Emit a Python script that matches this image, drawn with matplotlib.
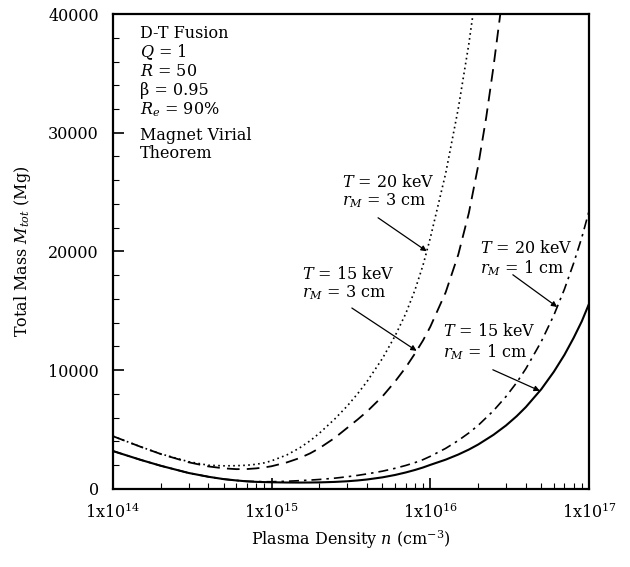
import numpy as np
import matplotlib
matplotlib.use("Agg")
import matplotlib.pyplot as plt
from matplotlib.ticker import FixedLocator, FuncFormatter, LogLocator, NullFormatter

plt.rcParams['font.family'] = ['DejaVu Serif']
plt.rcParams['mathtext.fontset'] = 'dejavuserif'

# plasma density (cm^-3) and total mass (Mg)
n_full = [1e14, 1.5e14, 2e14, 3e14, 4e14, 5e14, 6e14, 7e14, 8e14, 9e14,
          1e15, 1.25e15, 1.5e15, 1.75e15, 2e15, 2.5e15, 3e15, 3.5e15, 4e15, 5e15,
          6e15, 7e15, 8e15, 9e15, 1e16, 1.25e16, 1.5e16, 1.75e16, 2e16, 2.5e16,
          3e16, 3.5e16, 4e16, 5e16, 6e16, 7e16, 8e16, 9e16, 1e17]
m_t15_r1 = [3200, 2450, 1960, 1350, 1030, 830, 720, 640, 600, 580,
            565, 545, 540, 545, 555, 595, 650, 720, 800, 980,
            1180, 1390, 1600, 1810, 2030, 2470, 2900, 3320, 3740, 4560,
            5350, 6130, 6900, 8400, 9870, 11300, 12730, 14120, 15600]
m_t20_r1 = [3200, 2450, 1960, 1350, 1030, 830, 720, 650, 625, 612,
            610, 650, 700, 750, 800, 910, 1030, 1150, 1270, 1500,
            1740, 1980, 2220, 2470, 2750, 3420, 4080, 4720, 5350, 6590,
            7790, 8960, 10130, 12410, 14630, 16830, 19020, 21170, 23400]

n_t15_r3 = [1e14, 1.5e14, 2e14, 3e14, 4e14, 5e14, 6e14, 7e14, 8e14, 9e14,
            1e15, 1.25e15, 1.5e15, 1.75e15, 2e15, 2.5e15, 3e15, 3.5e15, 4e15, 5e15,
            6e15, 7e15, 8e15, 9e15, 1e16, 1.25e16, 1.5e16, 1.75e16, 2e16, 2.25e16,
            2.5e16, 2.75e16, 3e16]
m_t15_r3 = [4450, 3550, 2950, 2250, 1900, 1740, 1670, 1680, 1735, 1815,
            1915, 2240, 2600, 3000, 3430, 4300, 5150, 5870, 6530, 7800,
            9050, 10230, 11400, 12510, 13660, 16560, 19730, 23250, 27180, 31290,
            35550, 39830, 44240]

n_t20_r3 = [1e14, 1.5e14, 2e14, 3e14, 4e14, 5e14, 6e14, 7e14, 8e14, 9e14,
            1e15, 1.25e15, 1.5e15, 1.75e15, 2e15, 2.5e15, 3e15, 3.5e15, 4e15, 5e15,
            6e15, 7e15, 8e15, 9e15, 1e16, 1.25e16, 1.5e16, 1.75e16, 2e16]
m_t20_r3 = [4450, 3550, 2960, 2300, 2000, 1950, 1960, 2000, 2080, 2200,
            2370, 2870, 3450, 4060, 4690, 5890, 6990, 8050, 9060, 11000,
            12890, 14760, 16740, 18850, 21130, 26580, 32030, 37500, 43090]

x_ticks = [1e14, 1e15, 1e16, 1e17]
y_ticks = [0, 10000, 20000, 30000, 40000]

fig = plt.figure(figsize=(6.3, 5.67), dpi=100)
ax = fig.add_axes([0.179, 0.1376, 0.756, 0.8377])

ax.plot(n_full, m_t15_r1, color='black', lw=1.5, ls='-')
ax.plot(n_full, m_t20_r1, color='black', lw=1.2, ls=(0, (6, 3, 1.5, 3)))
ax.plot(n_t15_r3, m_t15_r3, color='black', lw=1.3, ls=(0, (7, 4)))
ax.plot(n_t20_r3, m_t20_r3, color='black', lw=1.2, ls=(0, (1, 2)))

ax.set_xscale('log')
ax.set_xlim(1e14, 1e17)
ax.set_ylim(0, 40000)

ax.xaxis.set_major_locator(FixedLocator(x_ticks))
ax.xaxis.set_major_formatter(FuncFormatter(lambda v, p: r'1x10$^{%d}$' % round(np.log10(v))))
ax.xaxis.set_minor_locator(LogLocator(base=10, subs=np.arange(2, 10)))
ax.xaxis.set_minor_formatter(NullFormatter())
ax.yaxis.set_major_locator(FixedLocator(y_ticks))
ax.yaxis.set_minor_locator(FixedLocator(np.arange(0, 40001, 2000)))
ax.yaxis.set_major_formatter(FuncFormatter(lambda v, p: '%d' % v))

ax.tick_params(which='major', direction='in', length=8, width=1.2, labelsize=11.5, pad=10)
ax.tick_params(which='minor', direction='in', length=4, width=0.8)
for s in ax.spines.values():
    s.set_linewidth(1.6)

ax.set_xlabel(r'Plasma Density $n$ (cm$^{-3}$)', fontsize=11.5, labelpad=4)
ax.set_ylabel(r'Total Mass $M_{tot}$ (Mg)', fontsize=11.5, labelpad=11)

# parameter block
info = [('D-T Fusion', 0.960), (r'$Q$ = 1', 0.920), (r'$R$ = 50', 0.880),
        (r'β = 0.95', 0.840), (r'$R_e$ = 90%', 0.798),
        ('Magnet Virial', 0.745), ('Theorem', 0.707)]
for txt, yy in info:
    ax.text(0.057, yy, txt, transform=ax.transAxes, fontsize=11.5, va='center', ha='left')

# curve labels with arrows
labels = [
    (r'$T$ = 20 keV', r'$r_M$ = 3 cm', 0.481, 0.646, 0.608, (0.557, 0.571), n_t20_r3, m_t20_r3, 9.5e15),
    (r'$T$ = 15 keV', r'$r_M$ = 3 cm', 0.397, 0.451, 0.413, (0.502, 0.381), n_t15_r3, m_t15_r3, 8.2e15),
    (r'$T$ = 20 keV', r'$r_M$ = 1 cm', 0.771, 0.507, 0.465, (0.840, 0.451), n_full, m_t20_r1, 6.3e16),
    (r'$T$ = 15 keV', r'$r_M$ = 1 cm', 0.693, 0.331, 0.288, (0.798, 0.251), n_full, m_t15_r1, 4.9e16),
]
for l1, l2, tx, ty1, ty2, tail, nx, my, n_tip in labels:
    ax.text(tx, ty1, l1, transform=ax.transAxes, fontsize=11.5, va='center', ha='left')
    ax.text(tx, ty2, l2, transform=ax.transAxes, fontsize=11.5, va='center', ha='left')
    m_tip = np.interp(np.log10(n_tip), np.log10(nx), my)
    ax.annotate('', xy=(n_tip, m_tip), xycoords='data', xytext=tail, textcoords='axes fraction',
                arrowprops=dict(arrowstyle='-|>', color='black', lw=0.9,
                                mutation_scale=8, shrinkA=0, shrinkB=0))

fig.savefig('out.png', dpi=100)
